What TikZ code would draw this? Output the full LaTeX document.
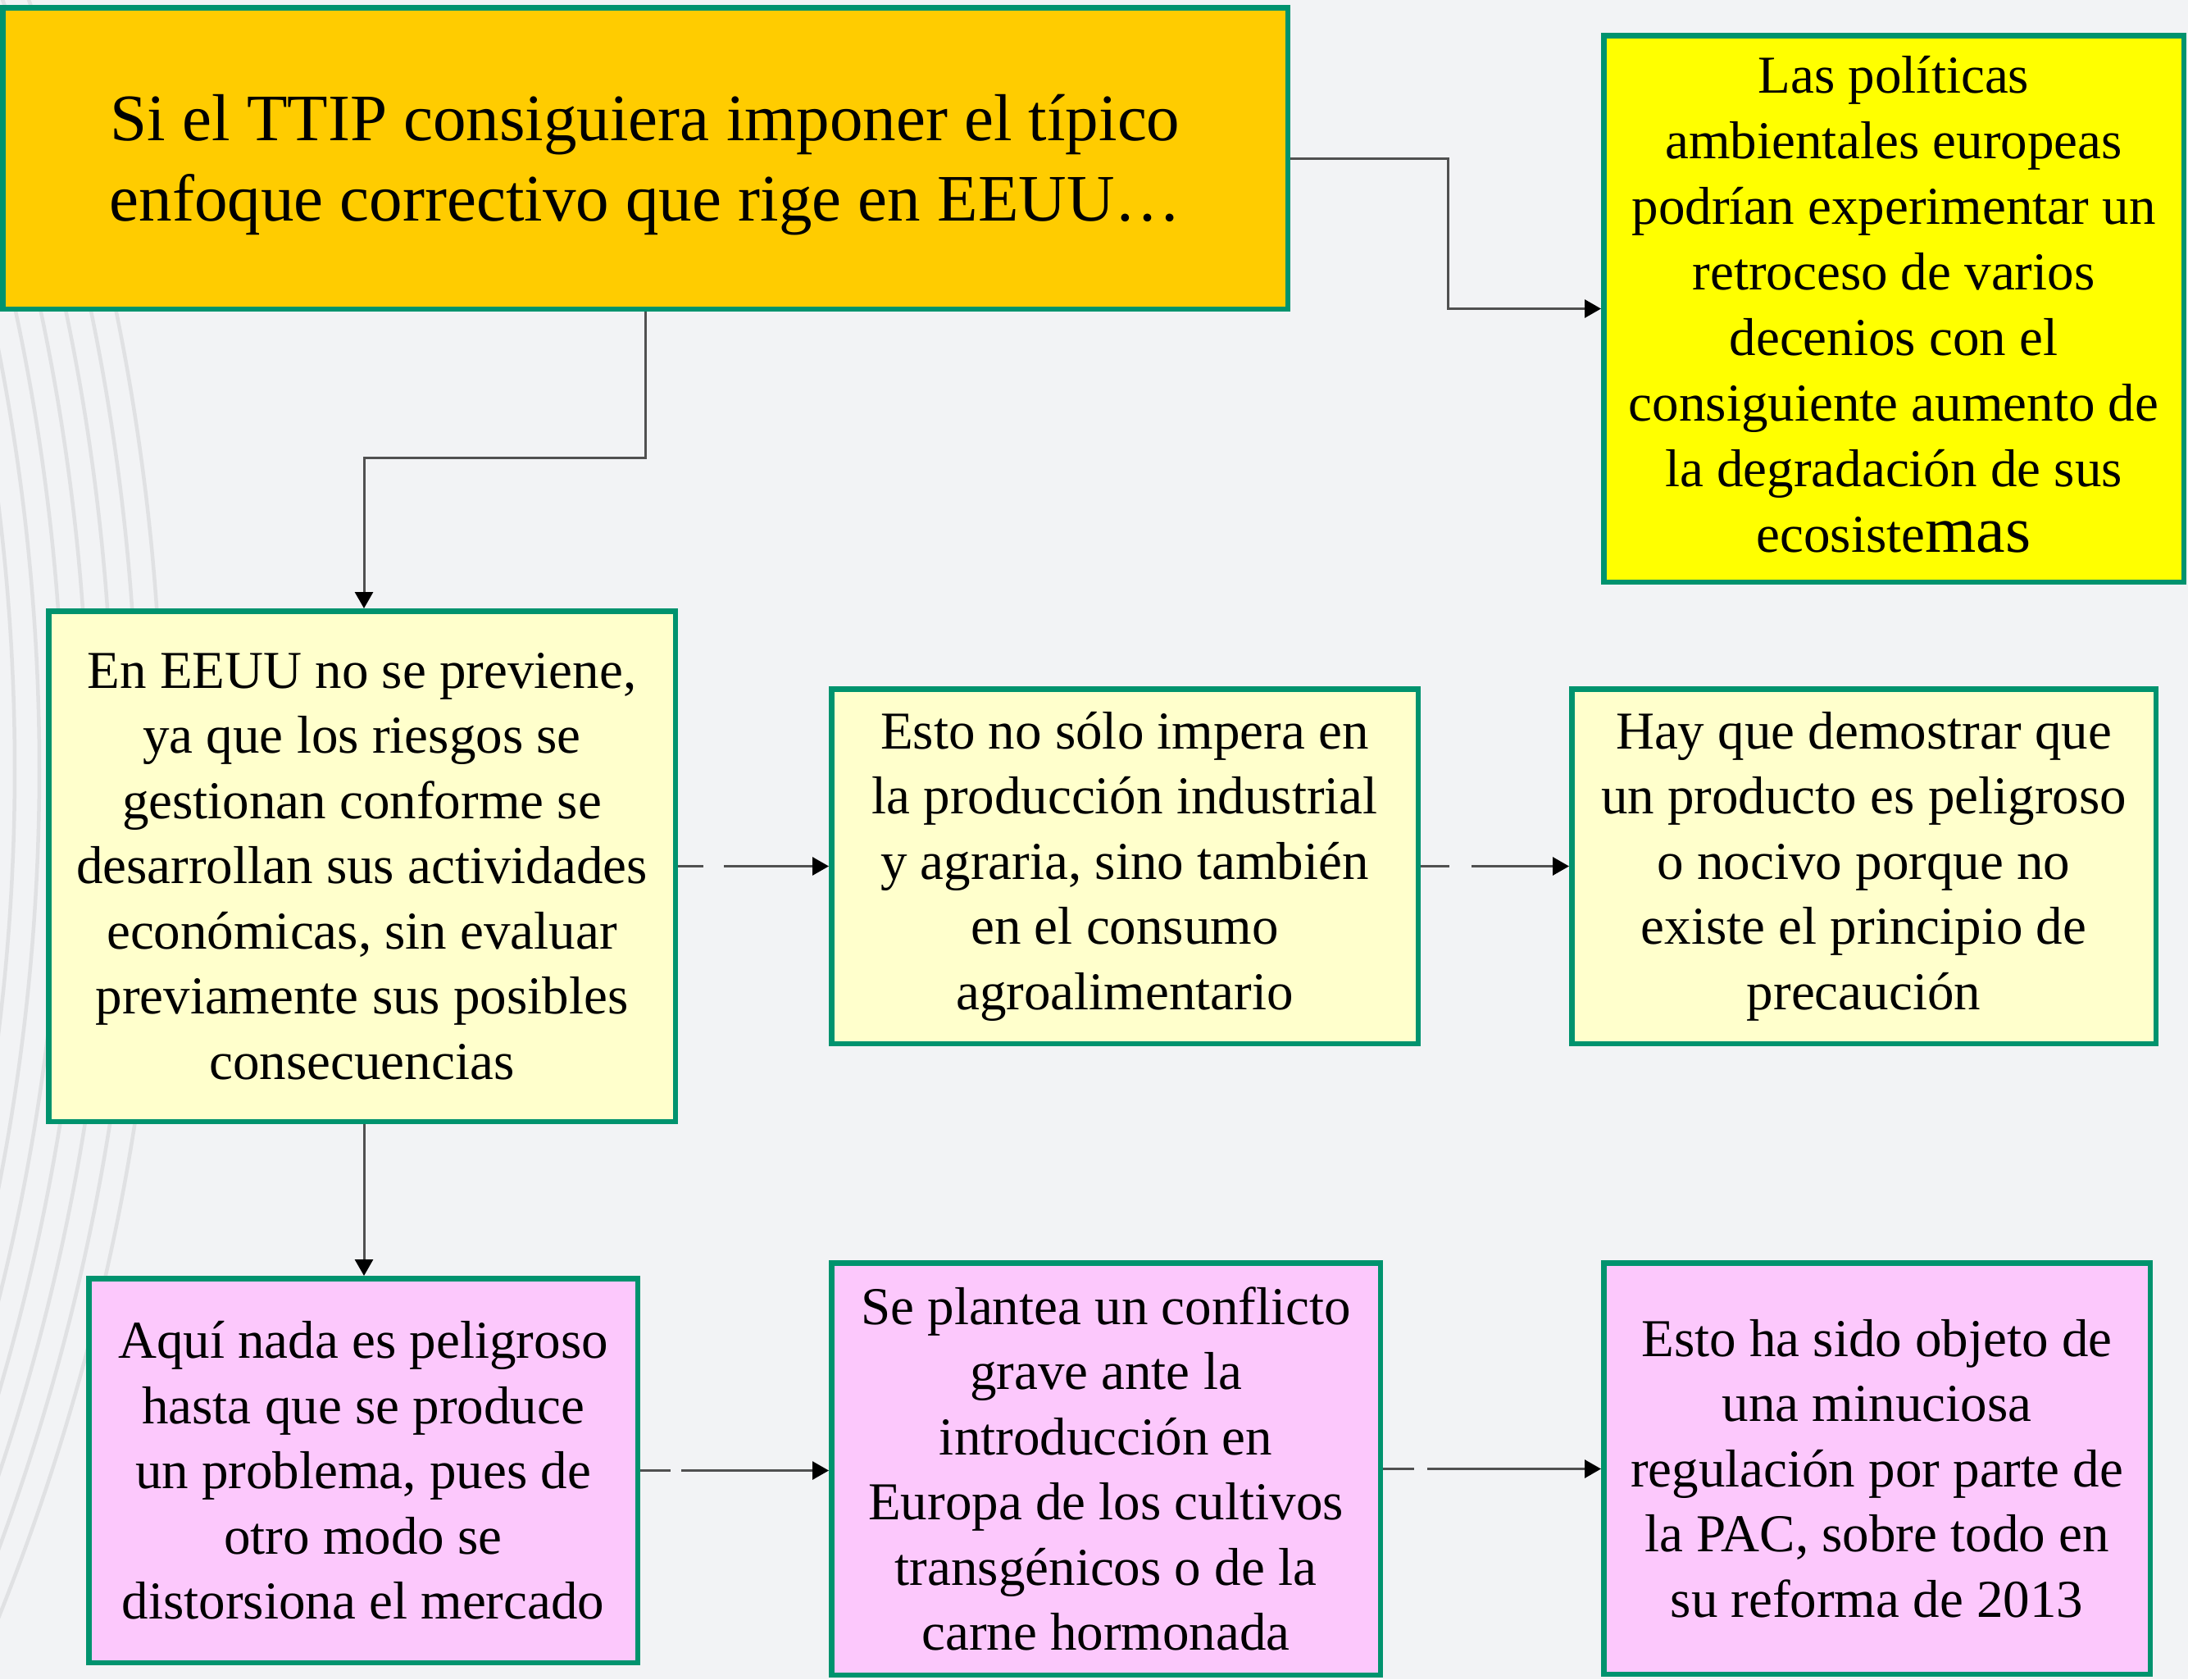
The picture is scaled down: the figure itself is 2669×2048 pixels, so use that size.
\documentclass[tikz,border=0pt]{standalone}
\usepackage{fontspec}
\setmainfont{Liberation Serif}
\usetikzlibrary{arrows.meta}
\definecolor{bg}{HTML}{F2F3F5}
\definecolor{arcc}{HTML}{E0E1E3}
\definecolor{bord}{HTML}{00936E}
\definecolor{orangef}{HTML}{FFCC00}
\definecolor{yellowf}{HTML}{FFFF00}
\definecolor{paley}{HTML}{FFFFCC}
\definecolor{pinkf}{HTML}{FCC8FC}
\definecolor{connc}{HTML}{505050}
\begin{document}
\begin{tikzpicture}[x=1pt,y=-1pt,
  box/.style={draw=bord, line width=6.5pt, inner sep=0pt, align=center, text=black,
    font=\fontsize{65}{79.5}\selectfont},
  txt/.style={inner sep=0pt, align=center, text=black},
  link/.style={draw=connc, line width=3pt, -{Triangle[length=20pt,width=22pt,color=black]}},
]
\fill[bg] (0,0) rectangle (2669,2048);
\useasboundingbox (0,0) rectangle (2669,2048);
\begin{scope}
\clip (0,0) rectangle (2669,2048);
\foreach \k in {0,...,8}
  \draw[arcc, line width=4.5pt] (-2572,938) circle[radius={(2770-30*\k)*1pt}];
\end{scope}

\node[box, fill=orangef, minimum width=1567.5pt, minimum height=367.5pt] (top) at (787,193) {};
\node[txt, font=\fontsize{81}{98.5}\selectfont] (toptxt) at ([yshift=-8pt]top.center)
  {Si el TTIP consiguiera imponer el típico\\enfoque correctivo que rige en EEUU…};

\node[box, fill=yellowf, minimum width=707.5pt, minimum height=666.5pt] (yel) at (2310,376.5) {};
\node[txt, font=\fontsize{65}{80}\selectfont] (yeltxt) at ([yshift=5pt]yel.center)
  {Las políticas\\ambientales europeas\\podrían experimentar un\\retroceso de varios\\decenios con el\\consiguiente aumento de\\la degradación de sus\\ecosiste{\fontsize{80}{80}\selectfont mas}};

\node[box, fill=paley, minimum width=764.5pt, minimum height=622.5pt] (A) at (441.5,1056.5)
  {En EEUU no se previene,\\ya que los riesgos se\\gestionan conforme se\\desarrollan sus actividades\\económicas, sin evaluar\\previamente sus posibles\\consecuencias};

\node[box, fill=paley, minimum width=715.5pt, minimum height=432.5pt] (B) at (1372,1056.5)
  {Esto no sólo impera en\\la producción industrial\\y agraria, sino también\\en el consumo\\agroalimentario};

\node[box, fill=paley, minimum width=712.5pt, minimum height=432.5pt] (C) at (2273.5,1056.5)
  {Hay que demostrar que\\un producto es peligroso\\o nocivo porque no\\existe el principio de\\precaución};

\node[box, fill=pinkf, minimum width=669.5pt, minimum height=468.5pt] (D) at (443,1793.5)
  {Aquí nada es peligroso\\hasta que se produce\\un problema, pues de\\otro modo se\\distorsiona el mercado};

\node[box, fill=pinkf, minimum width=669.5pt, minimum height=502.5pt] (E) at (1349,1791.5)
  {Se plantea un conflicto\\grave ante la\\introducción en\\Europa de los cultivos\\transgénicos o de la\\carne hormonada};

\node[box, fill=pinkf, minimum width=666.5pt, minimum height=501.5pt] (F) at (2289.5,1791)
  {Esto ha sido objeto de\\una minuciosa\\regulación por parte de\\la PAC, sobre todo en\\su reforma de 2013};

\coordinate (k1) at (1766,193);
\coordinate (k2) at (787,558);
\coordinate (k3) at (444,558);
\draw[link] (top.east) -- (k1) |- (yel.west);
\draw[link] (top.south) -- (k2) -- (k3) -- (k3 |- A.north);
\draw[link, dash pattern=on 31pt off 25pt on 3000pt] (A.east) -- (A.east -| B.west);
\draw[link, dash pattern=on 35pt off 27pt on 3000pt] (B.east) -- (B.east -| C.west);
\draw[link] (k3 |- A.south) -- (k3 |- D.north);
\draw[link, dash pattern=on 37pt off 13pt on 3000pt] (D.east) -- (D.east -| E.west);
\draw[link, dash pattern=on 38pt off 16pt on 3000pt] (E.east) -- (E.east -| F.west);
\end{tikzpicture}
\end{document}
